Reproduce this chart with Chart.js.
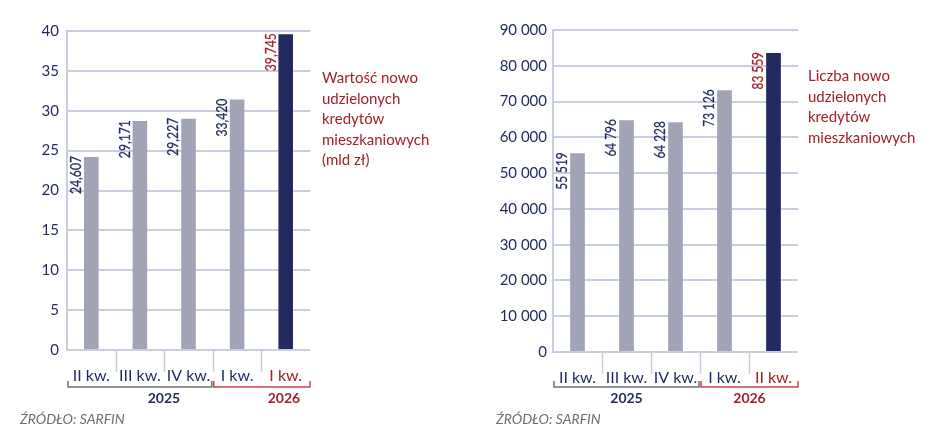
<!DOCTYPE html>
<html lang="pl">
<head>
    <meta charset="UTF-8">
    <title>Kredyty mieszkaniowe</title>
    <script src="https://cdn.jsdelivr.net/npm/chart.js"></script>
    <style>
        body { margin: 0; background: #fff; font-family: 'Lato', sans-serif; }
        .panel { position: absolute; top: 0; height: 436px; }
        .side-title { position: absolute; color: #a3202a; font-size: 15px; line-height: 20.5px; }
        .source { position: absolute; top: 410px; color: #6e6e6e; font-size: 14px; font-style: italic; }
    </style>
</head>
<body>
    <div class="panel" style="left:0;width:470px">
        <canvas id="valueChart" width="470" height="436"></canvas>
        <div class="side-title" style="left:322px;top:67px">Wartość nowo<br>udzielonych<br>kredytów<br>mieszkaniowych<br>(mld zł)</div>
        <div class="source" style="left:20px">ŹRÓDŁO: SARFIN</div>
    </div>
    <div class="panel" style="left:470px;width:478px">
        <canvas id="countChart" width="478" height="436"></canvas>
        <div class="side-title" style="left:338px;top:65px">Liczba nowo<br>udzielonych<br>kredytów<br>mieszkaniowych</div>
        <div class="source" style="left:26px">ŹRÓDŁO: SARFIN</div>
    </div>

    <script>
        // data
        const valueQuarters = ['II kw.', 'III kw.', 'IV kw.', 'I kw.', 'I kw.'];
        const valueBars = [24.2, 28.7, 29.0, 31.4, 39.6];        // bar heights as drawn
        const valuePrinted = ['24,607', '29,171', '29,227', '33,420', '39,745'];

        const countQuarters = ['II kw.', 'III kw.', 'IV kw.', 'I kw.', 'II kw.'];
        const countBars = [55519, 64796, 64228, 73126, 83559];
        const countPrinted = ['55 519', '64 796', '64 228', '73 126', '83 559'];

        const years = ['2025', '2026'];
        const firstOfNewYear = 3;

        const NAVY = '#1f2a5c';
        const RED = '#a3202a';
        const BAR_GREY = '#a1a4b6';
        const BAR_DARK = '#222b5f';
        const GRID = '#c9cde0';

        // rotated value labels, category separators, year brackets
        const decor = {
            id: 'decor',
            afterDraw(chart, args, opts) {
                const ctx = chart.ctx;
                const area = chart.chartArea;
                const xs = chart.scales.x;
                const meta = chart.getDatasetMeta(0);
                const last = meta.data.length - 1;

                meta.data.forEach((bar, i) => {
                    const col = i === last ? RED : NAVY;
                    ctx.save();
                    ctx.translate(bar.x - bar.width / 2 - opts.labelGap, bar.y - 1);
                    ctx.rotate(-Math.PI / 2);
                    ctx.scale(opts.squeeze, 1);
                    ctx.font = '16px Lato';
                    ctx.fillStyle = col;
                    ctx.strokeStyle = col;
                    ctx.lineWidth = 0.25;
                    ctx.textAlign = 'right';
                    ctx.textBaseline = 'middle';
                    ctx.fillText(opts.printed[i], 0, 0);
                    ctx.strokeText(opts.printed[i], 0, 0);
                    ctx.restore();
                });

                const edge = i => (xs.getPixelForValue(i) + xs.getPixelForValue(i + 1)) / 2;

                ctx.save();
                ctx.strokeStyle = GRID;
                ctx.lineWidth = 1.5;
                for (let i = 0; i < last; i++) {
                    const ex = Math.round(edge(i)) + 0.5;
                    ctx.beginPath();
                    ctx.moveTo(ex, area.bottom);
                    ctx.lineTo(ex, area.bottom + 22);
                    ctx.stroke();
                }

                const split = edge(firstOfNewYear - 1);
                const by = area.bottom + opts.bracketDrop;
                const spans = [
                    [area.left + 1, split - 1, '#707070', NAVY],
                    [split + 1, area.right, '#c4454f', RED]
                ];
                spans.forEach(([a, b, line, txt], k) => {
                    ctx.strokeStyle = line;
                    ctx.lineWidth = 1.5;
                    ctx.beginPath();
                    ctx.moveTo(a, by - 6);
                    ctx.lineTo(a, by);
                    ctx.lineTo(b, by);
                    ctx.lineTo(b, by - 6);
                    ctx.stroke();
                    ctx.fillStyle = txt;
                    ctx.font = 'bold 14px Lato';
                    ctx.textAlign = 'center';
                    ctx.textBaseline = 'middle';
                    ctx.fillText(years[k], (a + b) / 2 + opts.yearShift[k], by + 11);
                });
                ctx.restore();
            }
        };

        function makeChart(id, cats, bars, printed, cfg) {
            return new Chart(document.getElementById(id), {
                type: 'bar',
                data: {
                    labels: cats,
                    datasets: [{
                        data: bars,
                        backgroundColor: bars.map((_, i) => i === bars.length - 1 ? BAR_DARK : BAR_GREY),
                        barPercentage: 0.3,
                        categoryPercentage: 1
                    }]
                },
                options: {
                    responsive: false,
                    animation: false,
                    layout: { padding: { top: cfg.top, right: cfg.right, left: 0, bottom: 0 } },
                    plugins: {
                        legend: { display: false },
                        tooltip: { enabled: false },
                        decor: {
                            printed: printed,
                            labelGap: 8,
                            squeeze: cfg.squeeze,
                            bracketDrop: cfg.bracketDrop,
                            yearShift: cfg.yearShift
                        }
                    },
                    scales: {
                        x: {
                            grid: { display: false },
                            border: { display: false },
                            afterFit: s => { s.height = cfg.bottom; },
                            ticks: {
                                padding: 8,
                                maxRotation: 0,
                                minRotation: 0,
                                autoSkip: false,
                                color: c => c.index === cats.length - 1 ? RED : NAVY,
                                font: { family: 'Lato', size: 16 }
                            }
                        },
                        y: {
                            min: 0,
                            max: cfg.max,
                            afterFit: s => { s.width = cfg.axisWidth; },
                            grid: { color: GRID, lineWidth: 2, drawTicks: false },
                            border: { color: GRID, width: 2 },
                            ticks: {
                                stepSize: cfg.step,
                                padding: cfg.tickPad,
                                color: NAVY,
                                font: { family: 'Lato', size: 15 },
                                callback: v => String(v).replace(/\B(?=(\d{3})+(?!\d))/g, ' ')
                            }
                        }
                    }
                },
                plugins: [decor]
            });
        }

        makeChart('valueChart', valueQuarters, valueBars, valuePrinted, {
            top: 31, right: 160, bottom: 86, axisWidth: 67, tickPad: 8,
            max: 40, step: 5, squeeze: 0.76, bracketDrop: 37, yearShift: [24, 22]
        });

        makeChart('countChart', countQuarters, countBars, countPrinted, {
            top: 30, right: 150, bottom: 84, axisWidth: 83, tickPad: 6,
            max: 90000, step: 10000, squeeze: 0.74, bracketDrop: 35, yearShift: [0, 0]
        });
    </script>
</body>
</html>
